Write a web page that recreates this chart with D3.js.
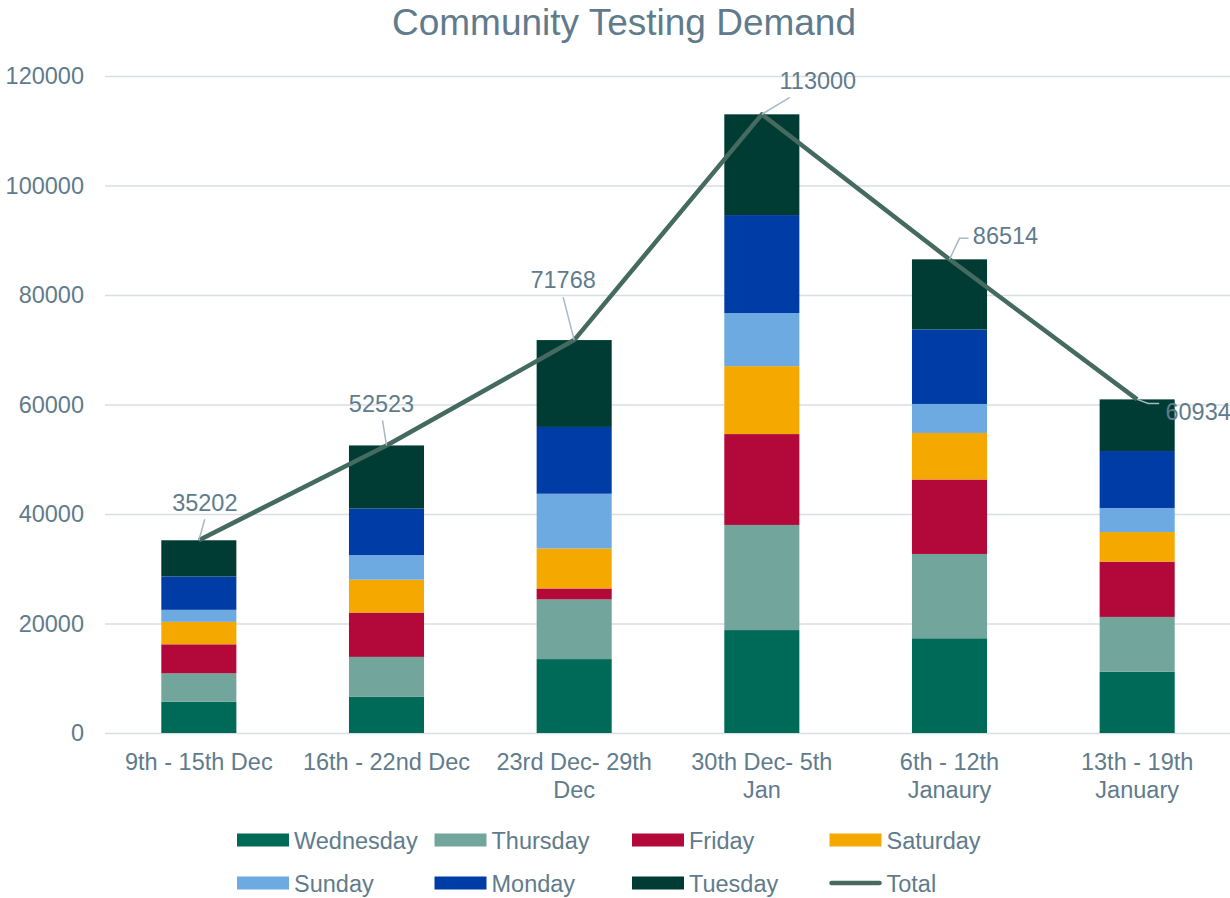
<!DOCTYPE html>
<html lang="en">

<head>
    <meta charset="UTF-8">
    <title>Community Testing Demand</title>
    <script src="https://d3js.org/d3.v7.min.js"></script>
    <style>
        body {
            margin: 0;
            background: #ffffff;
        }

        text {
            font-family: 'Liberation Sans', Arial, sans-serif;
            fill: #5f7b8c;
        }

        .domain {
            opacity: 0;
        }

        .y-axis line {
            stroke: #d9dee3;
            stroke-width: 1.5;
        }

        .y-axis text,
        .x-label,
        .legend text,
        .data-label {
            font-size: 23.5px;
        }

        .title {
            font-size: 37px;
            text-anchor: middle;
        }
    </style>
</head>

<body>
    <svg id="chart" width="1230" height="898"></svg>
    <script>
        // chart values
        const weeks = [
            ["9th - 15th Dec"],
            ["16th - 22nd Dec"],
            ["23rd Dec- 29th", "Dec"],
            ["30th Dec- 5th", "Jan"],
            ["6th - 12th", "Janaury"],
            ["13th - 19th", "January"]
        ];
        const days = ["Wednesday", "Thursday", "Friday", "Saturday", "Sunday", "Monday", "Tuesday"];
        const wednesday = [5700, 6600, 13500, 18800, 17300, 11200];
        const thursday = [5200, 7300, 10900, 19200, 15400, 10000];
        const friday = [5300, 8100, 2000, 16600, 13600, 10100];
        const saturday = [4100, 6000, 7300, 12400, 8500, 5400];
        const sunday = [2200, 4500, 10000, 9700, 5300, 4400];
        const monday = [6100, 8500, 12200, 17900, 13600, 10400];
        const tuesday = [6602, 11523, 15868, 18400, 12814, 9434];
        const totals = [35202, 52523, 71768, 113000, 86514, 60934];
        const yTicks = [0, 20000, 40000, 60000, 80000, 100000, 120000];

        const dayColors = ["#006a58", "#72a59b", "#b3093a", "#f5a800", "#6daae2", "#003ca6", "#003c33"];
        const totalColor = "#456a60";

        // where each total label sits relative to its point, and its leader line
        const labelLayout = [
            { dx: 6, dy: -38, leader: [[0, 0], [6, -21]] },
            { dx: -5, dy: -42, leader: [[0, 0], [-4, -25]] },
            { dx: -11, dy: -61, leader: [[0, 0], [-11, -43]] },
            { dx: 56, dy: -34, leader: [[0, 0], [28, -17]] },
            { dx: 56, dy: -24, leader: [[0, 0], [10, -21], [19, -21]] },
            { dx: 61, dy: 12, leader: [[0, 0], [11, 4], [22, 4]] }
        ];

        const series = [wednesday, thursday, friday, saturday, sunday, monday, tuesday];
        const rows = weeks.map((w, i) => {
            const row = { week: i };
            days.forEach((d, j) => row[d] = series[j][i]);
            return row;
        });

        const chart = d3.select("#chart");
        const plotLeft = 105, plotRight = 1231, plotTop = 76, plotBottom = 733;

        const scaleX = d3.scaleBand()
            .domain(weeks.map((w, i) => i))
            .range([plotLeft, plotRight])
            .paddingInner(0.6)
            .paddingOuter(0.3);
        const scaleY = d3.scaleLinear()
            .domain([0, 120000])
            .range([plotBottom, plotTop]);

        chart.append("text")
            .attr("class", "title")
            .attr("x", 624)
            .attr("y", 35)
            .text("Community Testing Demand");

        // gridlines + y labels
        const yAxis = d3.axisLeft(scaleY)
            .tickValues(yTicks)
            .tickSize(-(plotRight - plotLeft))
            .tickPadding(21)
            .tickFormat(d3.format("d"));
        chart.append("g")
            .attr("class", "y-axis")
            .attr("transform", `translate(${plotLeft},0)`)
            .call(yAxis);

        // stacked bars
        const stacked = d3.stack().keys(days)(rows);
        chart.append("g")
            .selectAll("g")
            .data(stacked)
            .join("g")
            .attr("fill", (d, i) => dayColors[i])
            .selectAll("rect")
            .data(d => d)
            .join("rect")
            .attr("x", d => scaleX(d.data.week))
            .attr("y", d => scaleY(d[1]))
            .attr("width", scaleX.bandwidth())
            .attr("height", d => scaleY(d[0]) - scaleY(d[1]));

        // x labels
        const xLabels = chart.append("g")
            .selectAll("text")
            .data(weeks)
            .join("text")
            .attr("class", "x-label")
            .attr("text-anchor", "middle")
            .attr("x", (d, i) => scaleX(i) + scaleX.bandwidth() / 2)
            .attr("y", 770);
        xLabels.selectAll("tspan")
            .data(d => d)
            .join("tspan")
            .attr("x", function () { return this.parentNode.getAttribute("x"); })
            .attr("dy", (d, i) => i === 0 ? 0 : 28)
            .text(d => d);

        // total line
        const cx = i => scaleX(i) + scaleX.bandwidth() / 2;
        const line = d3.line()
            .x((d, i) => cx(i))
            .y(d => scaleY(d));
        chart.append("path")
            .datum(totals)
            .attr("d", line)
            .attr("fill", "none")
            .attr("stroke", totalColor)
            .attr("stroke-width", 4.5)
            .attr("stroke-linejoin", "round");

        // leader lines and data labels
        chart.append("g")
            .selectAll("path")
            .data(totals)
            .join("path")
            .attr("d", (d, i) => d3.line()(labelLayout[i].leader.map(p => [cx(i) + p[0], scaleY(d) + p[1]])))
            .attr("fill", "none")
            .attr("stroke", "#a7b8c6")
            .attr("stroke-width", 1.5);

        chart.append("g")
            .selectAll("text")
            .data(totals)
            .join("text")
            .attr("class", "data-label")
            .attr("text-anchor", "middle")
            .attr("x", (d, i) => cx(i) + labelLayout[i].dx)
            .attr("y", (d, i) => scaleY(d) + labelLayout[i].dy + 8.5)
            .text(d => d);

        // legend
        const legendKeys = days.concat(["Total"]);
        const legend = chart.append("g")
            .attr("class", "legend")
            .selectAll("g")
            .data(legendKeys)
            .join("g")
            .attr("transform", (d, i) => `translate(${237 + (i % 4) * 197.5},${840 + Math.floor(i / 4) * 43})`);

        legend.filter(d => d !== "Total")
            .append("rect")
            .attr("x", 0)
            .attr("y", -6.5)
            .attr("width", 52)
            .attr("height", 13)
            .attr("fill", (d, i) => dayColors[i]);

        legend.filter(d => d === "Total")
            .append("line")
            .attr("x1", 2)
            .attr("x2", 50)
            .attr("y1", 0)
            .attr("y2", 0)
            .attr("stroke", totalColor)
            .attr("stroke-width", 4.5)
            .attr("stroke-linecap", "round");

        legend.append("text")
            .attr("x", 57)
            .attr("y", 8.5)
            .text(d => d);
    </script>
</body>

</html>
